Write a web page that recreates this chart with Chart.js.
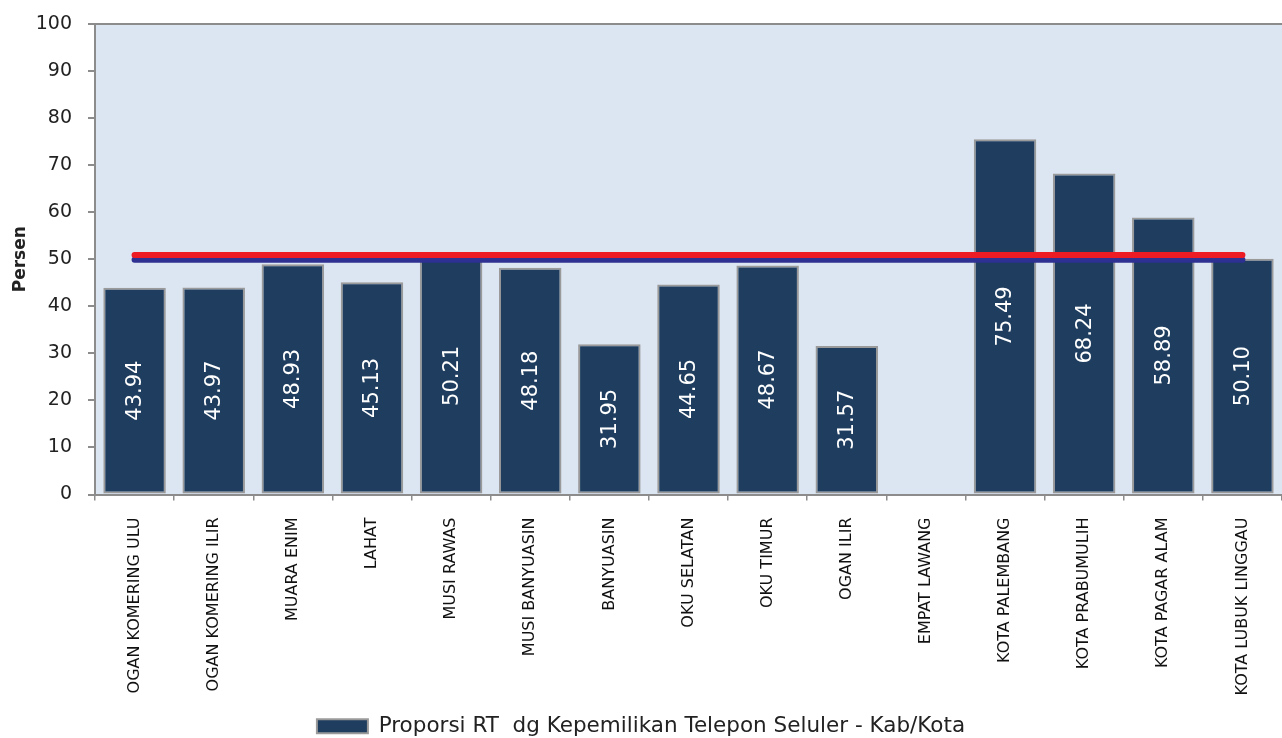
<!DOCTYPE html>
<html>
<head>
<meta charset="utf-8">
<script src="https://cdn.jsdelivr.net/npm/chart.js@4/dist/chart.umd.min.js"></script>
<style>
  html, body { margin: 0; padding: 0; background: #ffffff; }
  #wrap { width: 1282px; height: 738px; }
</style>
</head>
<body>
<div id="wrap"><canvas id="chart"></canvas></div>
<script>
// --- data ---
const regions = ['OGAN KOMERING ULU', 'OGAN KOMERING ILIR', 'MUARA ENIM', 'LAHAT', 'MUSI RAWAS',
    'MUSI BANYUASIN', 'BANYUASIN', 'OKU SELATAN', 'OKU TIMUR', 'OGAN ILIR', 'EMPAT LAWANG',
    'KOTA PALEMBANG', 'KOTA PRABUMULIH', 'KOTA PAGAR ALAM', 'KOTA LUBUK LINGGAU'];
const phoneShare = [43.94, 43.97, 48.93, 45.13, 50.21, 48.18, 31.95, 44.65, 48.67, 31.57, null,
    75.49, 68.24, 58.89, 50.10];
const redLevel = regions.map(() => 50.9);
const blueLevel = regions.map(() => 49.9);
const yTicks = [0, 10, 20, 30, 40, 50, 60, 70, 80, 90, 100];
const seriesLabel = 'Proporsi RT  dg Kepemilikan Telepon Seluler - Kab/Kota';

const FONT = "'DejaVu Sans', sans-serif";
const AXIS_GRAY = '#8c8c8c';

// plot background + top border
const plotFrame = {
    id: 'plotFrame',
    beforeDraw(chart) {
        const { ctx, chartArea: a } = chart;
        ctx.save();
        ctx.fillStyle = '#dce6f2';
        ctx.fillRect(a.left, a.top, a.right - a.left, a.bottom - a.top);
        ctx.strokeStyle = AXIS_GRAY; ctx.lineWidth = 2;
        ctx.beginPath(); ctx.moveTo(a.left - 7, a.top); ctx.lineTo(a.right, a.top); ctx.stroke();
        ctx.restore();
    }
};

// white vertical value labels centered in bars
const barValues = {
    id: 'barValues',
    afterDatasetsDraw(chart) {
        const { ctx } = chart;
        const meta = chart.getDatasetMeta(2);
        ctx.save();
        ctx.fillStyle = '#ffffff';
        ctx.font = '21px ' + FONT;
        ctx.textAlign = 'center'; ctx.textBaseline = 'middle';
        meta.data.forEach((bar, i) => {
            const v = phoneShare[i];
            if (v == null) return;
            const mid = (bar.y + bar.base) / 2;
            ctx.save();
            ctx.translate(bar.x, mid);
            ctx.rotate(-Math.PI / 2);
            ctx.fillText(v.toFixed(2), 0, 1);
            ctx.restore();
        });
        ctx.restore();
    }
};

new Chart(document.getElementById('chart'), {
    data: {
        labels: regions,
        datasets: [
            { type: 'line', label: 'red', data: redLevel, borderColor: '#ed1c24', borderWidth: 6,
              pointRadius: 0, borderCapStyle: 'round', order: 0 },
            { type: 'line', label: 'blue', data: blueLevel, borderColor: '#2e3192', borderWidth: 6,
              pointRadius: 0, borderCapStyle: 'round', order: 1 },
            { type: 'bar', label: seriesLabel, data: phoneShare, backgroundColor: '#1f3d5e',
              borderColor: '#9a9a9a', borderWidth: 2, borderSkipped: false,
              barPercentage: 0.79, categoryPercentage: 1.0, order: 2 }
        ]
    },
    options: {
        responsive: true,
        maintainAspectRatio: false,
        animation: false,
        layout: { padding: { top: 24, right: 0, left: 0, bottom: -9 } },
        plugins: {
            tooltip: { enabled: false },
            legend: {
                position: 'bottom',
                labels: {
                    filter: item => item.datasetIndex === 2,
                    boxWidth: 51, boxHeight: 14, padding: 1,
                    color: '#222222', font: { family: FONT, size: 21.5 }
                }
            }
        },
        scales: {
            x: {
                offset: true,
                grid: { offset: true, drawOnChartArea: false, tickLength: 6, color: AXIS_GRAY, lineWidth: 1.5 },
                border: { color: AXIS_GRAY, width: 2 },
                ticks: { autoSkip: false, minRotation: 90, maxRotation: 90, padding: 17,
                         color: '#111111', font: { family: FONT, size: 16 } },
                afterFit: s => { s.height = 220; s.paddingLeft = 0; s.paddingRight = 0; }
            },
            y: {
                min: 0, max: 100,
                afterBuildTicks: s => { s.ticks = yTicks.map(v => ({ value: v })); },
                grid: { drawOnChartArea: false, tickLength: 7, color: AXIS_GRAY, lineWidth: 2 },
                border: { color: AXIS_GRAY, width: 2 },
                ticks: { padding: 16, color: '#222222', font: { family: FONT, size: 19 } },
                title: { display: true, text: 'Persen', color: '#222222', padding: 10,
                         font: { family: FONT, size: 17, weight: 'bold' } },
                afterFit: s => { s.width = 95; s.paddingTop = 0; s.paddingBottom = 0; }
            }
        }
    },
    plugins: [plotFrame, barValues]
});
</script>
</body>
</html>
